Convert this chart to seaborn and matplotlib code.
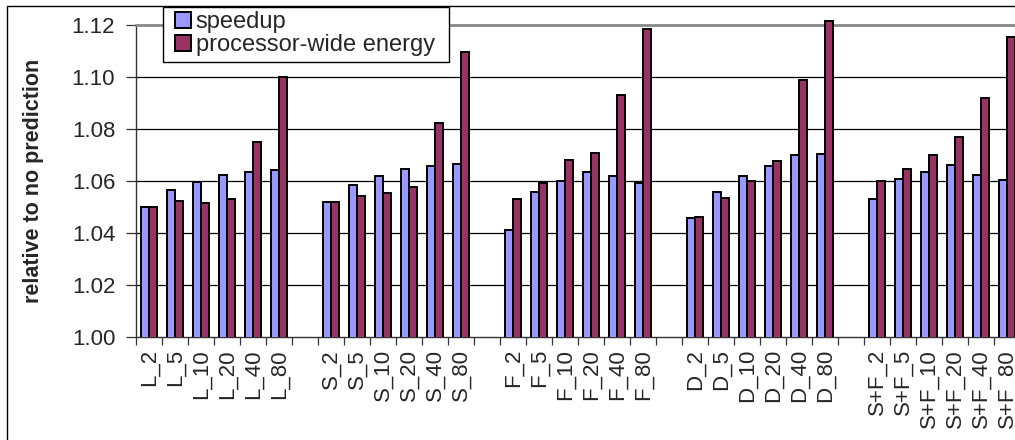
import matplotlib
matplotlib.use("Agg")
import matplotlib.pyplot as plt
import seaborn as sns
import pandas as pd
from matplotlib.patches import Rectangle
from matplotlib.ticker import FixedLocator
from matplotlib.transforms import Bbox, TransformedBbox

# ---------------- data ----------------
groups = ["L", "S", "F", "D", "S+F"]
sizes = ["2", "5", "10", "20", "40", "80"]
series_names = ["speedup", "processor-wide energy"]

speedup_L = [1.0499, 1.0563, 1.0594, 1.0622, 1.0633, 1.0642]
energy_L = [1.0497, 1.0521, 1.0516, 1.0530, 1.0751, 1.1001]
speedup_S = [1.0520, 1.0584, 1.0620, 1.0644, 1.0657, 1.0666]
energy_S = [1.0517, 1.0543, 1.0553, 1.0576, 1.0822, 1.1097]
speedup_F = [1.0410, 1.0555, 1.0599, 1.0632, 1.0617, 1.0590]
energy_F = [1.0529, 1.0593, 1.0679, 1.0706, 1.0930, 1.1183]
speedup_D = [1.0455, 1.0558, 1.0620, 1.0657, 1.0701, 1.0703]
energy_D = [1.0461, 1.0532, 1.0598, 1.0678, 1.0988, 1.1215]
speedup_SF = [1.0528, 1.0608, 1.0634, 1.0660, 1.0624, 1.0602]
energy_SF = [1.0598, 1.0644, 1.0698, 1.0770, 1.0920, 1.1153]

speedup_all = [speedup_L, speedup_S, speedup_F, speedup_D, speedup_SF]
energy_all = [energy_L, energy_S, energy_F, energy_D, energy_SF]

rows = []
order = []
labels = []
for gi, g in enumerate(groups):
    for si, s in enumerate(sizes):
        cat = f"{g}_{s}"
        order.append(cat)
        labels.append(cat)
        rows.append({"cat": cat, "series": series_names[0], "value": speedup_all[gi][si]})
        rows.append({"cat": cat, "series": series_names[1], "value": energy_all[gi][si]})
    if gi < len(groups) - 1:
        gap = " " * (gi + 1)
        order.append(gap)
        labels.append("")
df = pd.DataFrame(rows)

# ---------------- figure ----------------
W, H = 1015, 440
fig = plt.figure(figsize=(W / 100, H / 100), dpi=100)
sns.set_style("white")
plt.rcParams["font.family"] = ["Liberation Sans", "DejaVu Sans"]

ax_left, ax_right, ax_top, ax_bottom = 136, 1020, 25, 336.5
ax = fig.add_axes([ax_left / W, 1 - ax_bottom / H, (ax_right - ax_left) / W, (ax_bottom - ax_top) / H])

palette = {"speedup": "#9999FF", "processor-wide energy": "#993366"}
sns.barplot(data=df, x="cat", y="value", hue="series", order=order,
            hue_order=series_names, palette=palette, width=0.64,
            edgecolor="black", linewidth=1.4, saturation=1, ax=ax, zorder=3)

ax.set_ylim(1.0, 1.12)
ax.set_xlim(-0.5, len(order) - 0.5)

# allow bars to poke slightly above the plot top, but clip at the bottom
clip_box = TransformedBbox(Bbox([[0, 0], [1, 1.03]]), ax.transAxes)
for p in ax.patches:
    p.set_clip_path(None)
    p.set_clip_box(clip_box)
    p.set_clip_on(True)

ax.set_yticks([1.00, 1.02, 1.04, 1.06, 1.08, 1.10, 1.12])
ax.set_yticklabels(["1.00", "1.02", "1.04", "1.06", "1.08", "1.10", "1.12"], fontsize=16)

# gridlines (1.12 drawn as grey plot border)
for yv in [1.02, 1.04, 1.06, 1.08, 1.10]:
    ax.axhline(yv, color="black", lw=0.9, zorder=1)

ax.set_xticks(range(len(order)))
ax.set_xticklabels(labels, rotation=90, fontsize=16, va="top")
ax.tick_params(axis="x", which="major", length=0, pad=9)
ax.xaxis.set_minor_locator(FixedLocator([i - 0.5 for i in range(len(order) + 1)]))
ax.tick_params(axis="x", which="minor", length=6, width=0.9, color="#333333", direction="out", bottom=True)
ax.tick_params(axis="y", length=7, width=0.9, color="#333333", direction="out", pad=8, left=True)

for side in ["left", "bottom"]:
    ax.spines[side].set_color("#333333")
    ax.spines[side].set_linewidth(1.0)
ax.spines["top"].set_color("#888888")
ax.spines["top"].set_linewidth(2.0)
ax.spines["right"].set_visible(False)

ax.set_xlabel("")
ax.set_ylabel("relative to no prediction", fontsize=15.5, fontweight="bold")
ax.yaxis.set_label_coords(-(136 - 44) / (ax_right - ax_left), 0.5)

# legend box (drawn separately so its padding matches the reference)
fig.patches.append(Rectangle((163 / W, 1 - 62 / H), (449 - 163) / W, (62 - 7) / H,
                             transform=fig.transFigure, facecolor="white",
                             edgecolor="black", lw=1.0, zorder=5))

handles, lab = ax.get_legend_handles_labels()
ax.get_legend().remove()
leg = fig.legend(handles, lab, loc="upper left",
                 bbox_to_anchor=(175 / W, 1 - 11 / H), bbox_transform=fig.transFigure,
                 fontsize=17, frameon=False,
                 handlelength=0.68, handleheight=0.68, handletextpad=0.2,
                 borderpad=0, labelspacing=0.06, borderaxespad=0)
leg.set_zorder(10)

# outer chart border (clipped on right and bottom)
fig.patches.append(Rectangle((6.7 / W, -0.1), 1.2, (1 - 5.7 / H) + 0.1, transform=fig.transFigure,
                             fill=False, edgecolor="black", lw=1.0, zorder=0))

fig.savefig("out.png", dpi=100)
